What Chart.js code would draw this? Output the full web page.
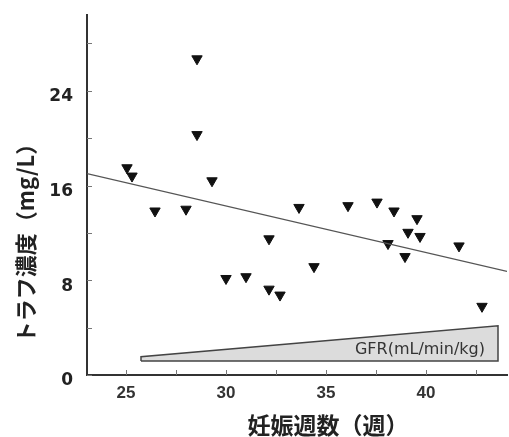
<!DOCTYPE html>
<html lang="ja">
<head>
<meta charset="utf-8">
<title>トラフ濃度と妊娠週数</title>
<script src="https://cdn.jsdelivr.net/npm/chart.js@4/dist/chart.umd.min.js"></script>
<style>
  html, body { margin: 0; padding: 0; background: #fff; }
  #wrap { width: 509px; height: 437px; }
</style>
</head>
<body>
<div id="wrap"><canvas id="graficoTrough" width="509" height="437"></canvas></div>
<script>
// 妊娠週数ごとのトラフ濃度 (mg/L)
const weeks = [25.05, 25.3, 26.45, 28.0, 28.55, 28.55, 29.3, 30.0, 31.0, 32.15, 32.15, 32.7,
  33.65, 34.4, 36.1, 37.55, 38.1, 38.4, 38.95, 39.1, 39.55, 39.7, 41.65, 42.8];
const trough = [17.5, 16.8, 13.85, 14.0, 26.7, 20.3, 16.4, 8.15, 8.3, 11.5, 7.25, 6.75,
  14.15, 9.15, 14.3, 14.6, 11.1, 13.85, 10.0, 12.05, 13.2, 11.7, 10.9, 5.8];

// 回帰直線の両端
const fitX = [23.05, 44.05];
const fitY = [17.0, 8.75];

// GFR の増加を示すくさび形 (閉じた多角形)
const gfrX = [25.75, 43.6, 43.6, 25.75, 25.75];
const gfrY = [1.18, 1.18, 4.16, 1.54, 1.18];
const gfrLabel = "GFR(mL/min/kg)";

// 目盛り
const xTicks = [25, 27.5, 30, 32.5, 35, 37.5, 40, 42.5];
const yTicks = [0, 4, 8, 12, 16, 20, 24, 28];

const xTitle = "妊娠週数（週）";
const yTitle = "トラフ濃度（mg/L）";

const toPoints = (xs, ys) => xs.map((x, i) => ({ x, y: ys[i] }));

// 内向きの目盛り線、GFR ラベル、軸タイトル
const decoraciones = {
  id: "decoraciones",
  afterDraw(chart) {
    const { ctx, chartArea, scales } = chart;
    const x = scales.x;
    const y = scales.y;
    ctx.save();
    ctx.strokeStyle = "#777";
    ctx.lineWidth = 1;
    ctx.beginPath();
    xTicks.forEach((v) => {
      const px = Math.round(x.getPixelForValue(v)) + 0.5;
      ctx.moveTo(px, chartArea.bottom);
      ctx.lineTo(px, chartArea.bottom - 5);
    });
    yTicks.forEach((v) => {
      const py = Math.round(y.getPixelForValue(v)) + 0.5;
      ctx.moveTo(chartArea.left, py);
      ctx.lineTo(chartArea.left + 5, py);
    });
    ctx.stroke();

    ctx.fillStyle = "#333";
    ctx.font = '16px "DejaVu Sans", Verdana, sans-serif';
    ctx.textAlign = "right";
    ctx.textBaseline = "middle";
    ctx.fillText(gfrLabel, x.getPixelForValue(42.95), y.getPixelForValue(2.1));

    ctx.fillStyle = "#222";
    ctx.font = 'bold 23px "Noto Sans CJK JP", sans-serif';
    ctx.textAlign = "center";
    ctx.fillText(xTitle, chartArea.left + 241, 425);

    ctx.font = 'bold 22px "Noto Sans CJK JP", sans-serif';
    ctx.translate(26, 238);
    ctx.rotate(-Math.PI / 2);
    ctx.fillText(yTitle, 0, 0);
    ctx.restore();
  },
};

const ctx = document.getElementById("graficoTrough").getContext("2d");
new Chart(ctx, {
  type: "scatter",
  data: {
    datasets: [
      {
        label: "GFR",
        data: toPoints(gfrX, gfrY),
        showLine: true,
        fill: "shape",
        backgroundColor: "#dcdcdc",
        borderColor: "#444",
        borderWidth: 1.5,
        pointRadius: 0,
        tension: 0,
      },
      {
        label: "回帰直線",
        data: toPoints(fitX, fitY),
        showLine: true,
        borderColor: "#555",
        borderWidth: 1.2,
        pointRadius: 0,
      },
      {
        label: "トラフ濃度",
        data: toPoints(weeks, trough),
        pointStyle: "triangle",
        rotation: 180,
        pointRadius: 6,
        borderWidth: 1,
        backgroundColor: "#111",
        borderColor: "#111",
      },
    ],
  },
  options: {
    responsive: false,
    animation: false,
    layout: { autoPadding: false, padding: { top: 15, right: 2, left: 0, bottom: 0 } },
    plugins: { legend: { display: false }, tooltip: { enabled: false } },
    scales: {
      x: {
        type: "linear",
        min: 23.05,
        max: 44.05,
        afterBuildTicks: (scale) => {
          scale.ticks = xTicks.map((value) => ({ value }));
        },
        afterFit: (scale) => {
          scale.height = 62;
          scale.paddingLeft = 0;
          scale.paddingRight = 0;
        },
        grid: { display: false, drawTicks: false },
        border: { display: true, color: "#333", width: 2 },
        ticks: {
          autoSkip: false,
          maxRotation: 0,
          padding: 8,
          color: "#333",
          font: { family: '"Liberation Sans", Arial, sans-serif', size: 17, weight: "bold" },
          callback: (v) => (v % 5 === 0 ? v : ""),
        },
      },
      y: {
        type: "linear",
        min: 0,
        max: 30.4,
        afterBuildTicks: (scale) => {
          scale.ticks = yTicks.map((value) => ({ value }));
        },
        afterFit: (scale) => {
          scale.width = 87;
          scale.paddingTop = 0;
          scale.paddingBottom = 0;
        },
        grid: { display: false, drawTicks: false },
        border: { display: true, color: "#333", width: 2 },
        ticks: {
          autoSkip: false,
          padding: 14,
          labelOffset: 6,
          color: "#222",
          font: { family: '"DejaVu Sans", Verdana, sans-serif', size: 17, weight: "bold" },
          callback: (v) => (v % 8 === 0 ? v : ""),
        },
      },
    },
  },
  plugins: [decoraciones],
});
</script>
</body>
</html>
